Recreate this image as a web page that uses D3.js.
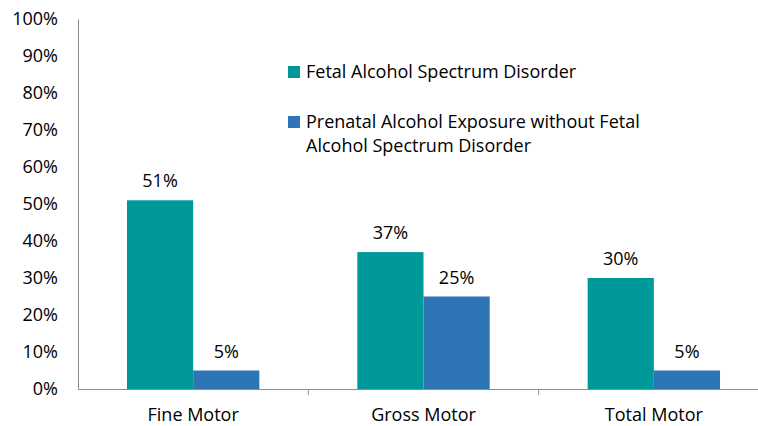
<!DOCTYPE html>
<html>
<head>
<meta charset="utf-8">
<script src="https://cdn.jsdelivr.net/npm/d3@7"></script>
<style>
  body { margin: 0; background: #fff; }
  svg { display: block; font-family: "Open Sans", sans-serif; }
  .axis text { font-size: 18px; fill: #000; font-family: "Open Sans", sans-serif; }
</style>
</head>
<body>
<script>
const categories = ['Fine Motor', 'Gross Motor', 'Total Motor']
const seriesNames = [
  'Fetal Alcohol Spectrum Disorder',
  'Prenatal Alcohol Exposure without Fetal Alcohol Spectrum Disorder'
]
const fasd = [51, 37, 30]
const paeNoFasd = [5, 25, 5]
const yTicks = [0, 10, 20, 30, 40, 50, 60, 70, 80, 90, 100]

const colors = ['#009999', '#2E75B6']
const width = 758
const height = 426
const margin = { top: 19, left: 78, bottom: 37 }
const plotRight = 769

const svg = d3.select('body').append('svg')
  .attr('width', width)
  .attr('height', height)

const x = d3.scaleBand()
  .domain(categories)
  .range([margin.left, plotRight])

const x1 = d3.scaleBand()
  .domain([0, 1])
  .range([0, x.bandwidth()])
  .paddingOuter(0.74)

const y = d3.scaleLinear()
  .domain([0, 100])
  .range([height - margin.bottom, margin.top])

const data = categories.map((c, i) => ({ cat: c, values: [fasd[i], paeNoFasd[i]] }))

// bars
const groups = svg.append('g')
  .selectAll('g')
  .data(data)
  .join('g')
  .attr('transform', d => `translate(${x(d.cat)},0)`)

groups.selectAll('rect')
  .data(d => d.values.map((v, s) => ({ v, s })))
  .join('rect')
  .attr('x', d => x1(d.s))
  .attr('width', x1.bandwidth())
  .attr('y', d => y(d.v))
  .attr('height', d => y(0) - y(d.v))
  .attr('fill', d => colors[d.s])

// value labels
groups.selectAll('text')
  .data(d => d.values.map((v, s) => ({ v, s })))
  .join('text')
  .attr('x', d => x1(d.s) + x1.bandwidth() / 2)
  .attr('y', d => y(d.v) - 13)
  .attr('text-anchor', 'middle')
  .style('font-size', '18px')
  .text(d => d.v + '%')

// y axis
const yAxis = svg.append('g')
  .attr('class', 'axis y')
  .attr('transform', `translate(${margin.left},0)`)
  .call(d3.axisLeft(y).tickValues(yTicks).tickFormat(d => d + '%').tickSize(0).tickPadding(20))
yAxis.select('.domain').attr('stroke', '#8c8c8c')

// x axis
const xAxis = svg.append('g')
  .attr('class', 'axis x')
  .attr('transform', `translate(0,${y(0)})`)
  .call(d3.axisBottom(x).tickSize(0).tickPadding(19))
xAxis.select('.domain').attr('stroke', '#8c8c8c')
// category separators
xAxis.selectAll('line.sep')
  .data(categories.slice(1))
  .join('line')
  .attr('class', 'sep')
  .attr('x1', d => x(d)).attr('x2', d => x(d))
  .attr('y1', 0).attr('y2', 6)
  .attr('stroke', '#8c8c8c')

// legend
const legend = svg.append('g').attr('transform', 'translate(288,0)')
const legendRows = [
  { lines: [seriesNames[0]], y: 72 },
  { lines: ['Prenatal Alcohol Exposure without Fetal', 'Alcohol Spectrum Disorder'], y: 122 }
]
legendRows.forEach((row, i) => {
  legend.append('rect')
    .attr('x', 0).attr('y', row.y - 6)
    .attr('width', 12).attr('height', 12)
    .attr('fill', colors[i])
  const t = legend.append('text')
    .attr('x', 18).attr('y', row.y + 6)
    .style('font-size', '18px')
  row.lines.forEach((l, j) => {
    t.append('tspan').attr('x', 18).attr('dy', j === 0 ? 0 : 24).text(l)
  })
})
</script>
</body>
</html>
